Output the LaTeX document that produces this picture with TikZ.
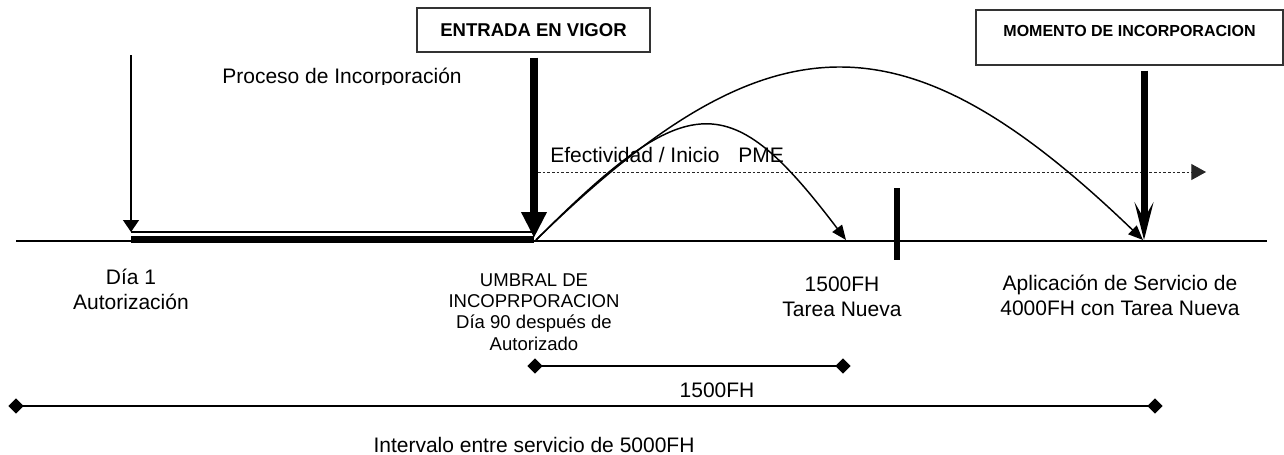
\documentclass[tikz,border=0pt]{standalone}
\usepackage{fontspec}
\setmainfont{Liberation Sans}
\usetikzlibrary{arrows.meta,shapes.geometric}
\begin{document}
\begin{tikzpicture}[x=0.75pt,y=-0.75pt,
  lbl/.style={inner sep=0pt, align=center, font=\fontsize{15.75}{18.75}\selectfont, anchor=base},
  lblsmall/.style={inner sep=0pt, align=center, font=\fontsize{13.9}{16}\selectfont, anchor=base},
  boxed/.style={draw=black!80, line width=1.1pt, inner sep=0pt, fill=white},
  dia/.style={diamond, fill=black, draw=none, inner sep=0pt, minimum width=11.5pt, minimum height=11.5pt},
  axisline/.style={line width=1.1pt},
  arcline/.style={line width=1.1pt, -{Triangle[width=9pt,length=11pt]}},
  intervalline/.style={line width=1.5pt},
]
\useasboundingbox (0,0) rectangle (1284,454);

% key points
\coordinate (ax0) at (16,241);
\coordinate (ax1) at (1267,241);
\coordinate (dayonetop) at (131,55);
\coordinate (barL) at (131,232);
\coordinate (barR) at (534,232);
\coordinate (thickL) at (131,239.5);
\coordinate (thickR) at (534,239.5);
\coordinate (thr) at (536,240);
\coordinate (entip) at (534,238);
\coordinate (smallend) at (846,240);
\coordinate (bigend) at (1143,240);
\coordinate (motip) at (1144,240);
\coordinate (dotL) at (538,172);
\coordinate (dotR) at (1206,172);
\coordinate (tickT) at (897,188);
\coordinate (tickB) at (897,260);

% boxes
\node[boxed, minimum width=174.75pt, minimum height=33pt,
      font=\bfseries\fontsize{13.9}{16}\selectfont] (entrada) at (533.5,30) {ENTRADA EN VIGOR};
\node[boxed, minimum width=230.25pt, text height=19.5pt, text depth=21.75pt,
      font=\bfseries\fontsize{12}{14}\selectfont] (momento) at (1129.5,37.5) {MOMENTO DE INCORPORACION};

% axis
\draw[axisline] (ax0) -- (ax1);

% incorporation period bar
\draw[line width=1.1pt] (barL) -- (barR);
\draw[line width=5.25pt] (thickL) -- (thickR);

% day 1 arrow
\draw[line width=1.1pt, -{Triangle[width=12pt,length=9pt]}] (dayonetop) -- (barL);

% entrada arrow
\draw[line width=6pt, shorten <=3.75pt, -{Triangle[width=18pt,length=19.5pt]}] (entrada.south -| entip) -- (entip);

% dotted line
\draw[line width=0.6pt, black!85, dash pattern=on 2pt off 1.5pt, -{Triangle[width=12pt,length=11pt]}] (dotL) -- (dotR);

% arcs
\draw[arcline] (thr) .. controls (689,87) and (730,87) .. (smallend);
\draw[arcline] (thr) .. controls (770,11) and (905,11) .. (bigend);

% momento arrow
\draw[line width=5.25pt, shorten <=3.75pt, -{Stealth[width=14pt,length=28pt,inset=12pt]}] (momento.south -| motip) -- (motip);

% tick
\draw[line width=4.5pt] (tickT) -- (tickB);

% texts
\begin{scope}
\clip (200,40) rectangle (500,84);
\node[lbl] (proceso) at (342,83) {Proceso de Incorporación};
\end{scope}
\node[lbl, anchor=base west] (efect) at (550,162) {Efectividad / Inicio\hspace{14.2pt}PME};
\node[lbl] (dia1) at (131,309.5) {Día 1\\Autorización};
\node[lblsmall] (umbral) at (534,350) {UMBRAL DE\\INCOPRPORACION\\Día 90 después de\\Autorizado};
\node[lbl] (tarea) at (842,316) {1500FH\\Tarea Nueva};
\node[lbl] (aplic) at (1120,315) {Aplicación de Servicio de\\4000FH con Tarea Nueva};

% intervals
\node[dia] (i1a) at (535,366) {};
\node[dia] (i1b) at (843,366) {};
\draw[intervalline] (i1a.center) -- (i1b.center);
\node[lbl] (fh1500) at (717,397) {1500FH};
\node[dia] (i2a) at (16,406) {};
\node[dia] (i2b) at (1155,406) {};
\draw[intervalline] (i2a.center) -- (i2b.center);
\node[lbl] (intervalo) at (534,452) {Intervalo entre servicio de 5000FH};
\end{tikzpicture}
\end{document}
